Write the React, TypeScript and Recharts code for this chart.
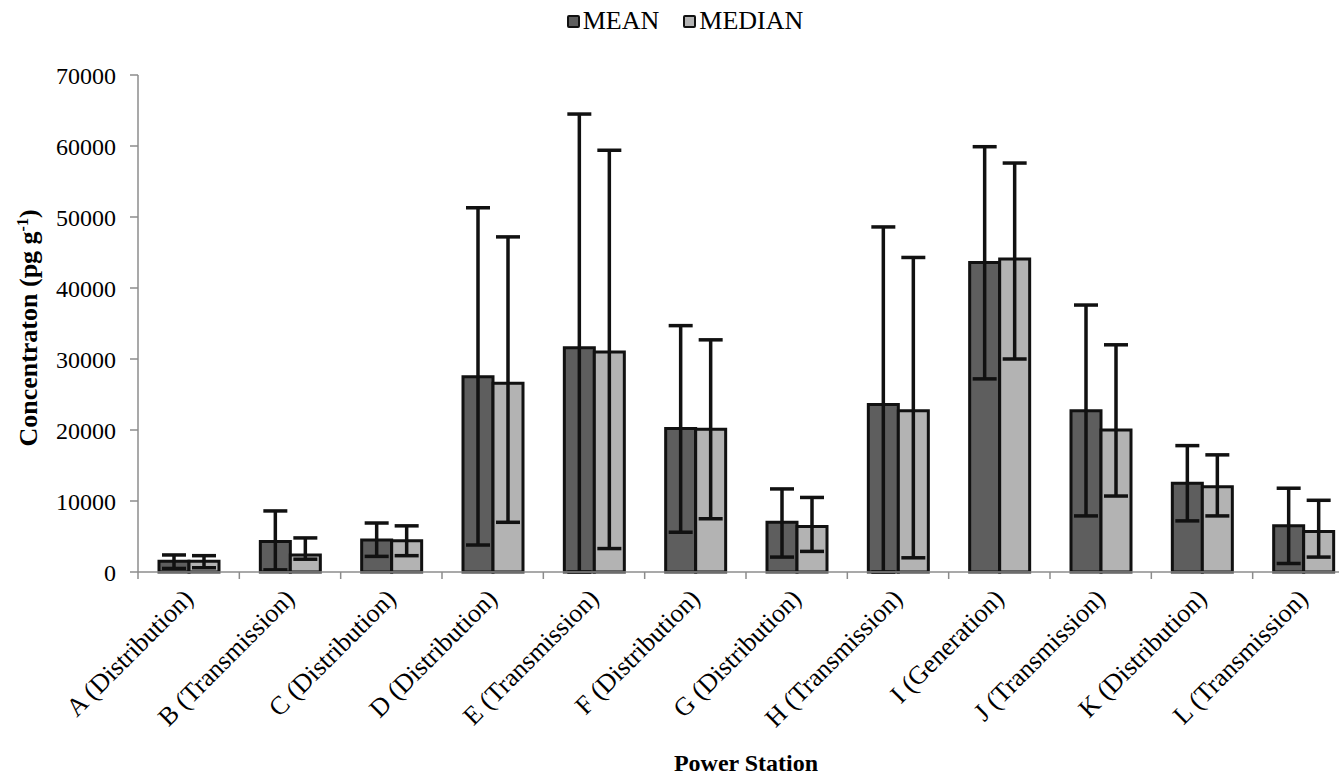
import React from 'react';
import { BarChart, Bar, XAxis, YAxis, ErrorBar, Legend } from 'recharts';

const categories = [
  'A (Distribution)', 'B (Transmission)', 'C (Distribution)', 'D (Distribution)',
  'E (Transmission)', 'F (Distribution)', 'G (Distribution)', 'H (Transmission)',
  'I (Generation)', 'J (Transmission)', 'K (Distribution)', 'L (Transmission)',
];

const meanValues = [1500, 4300, 4500, 27500, 31600, 20200, 7000, 23600, 43600, 22700, 12500, 6500];
const meanLow = [500, 300, 2200, 3800, 0, 5600, 2100, 0, 27200, 7900, 7200, 1200];
const meanHigh = [2400, 8600, 6900, 51300, 64500, 34700, 11700, 48600, 59900, 37600, 17800, 11800];

const medianValues = [1500, 2400, 4400, 26600, 31000, 20100, 6400, 22700, 44100, 20000, 12000, 5700];
const medianLow = [600, 1800, 2300, 7000, 3300, 7500, 2900, 2000, 30000, 10700, 7900, 2100];
const medianHigh = [2300, 4800, 6500, 47200, 59400, 32700, 10500, 44300, 57600, 32000, 16500, 10100];

const yTicks = [0, 10000, 20000, 30000, 40000, 50000, 60000, 70000];

const data = categories.map((name, i) => ({
  name,
  mean: meanValues[i],
  meanErr: [meanValues[i] - meanLow[i], meanHigh[i] - meanValues[i]],
  median: medianValues[i],
  medianErr: [medianValues[i] - medianLow[i], medianHigh[i] - medianValues[i]],
}));

const FONT = '"Liberation Serif", Tinos, "Times New Roman", "DejaVu Serif", "Noto Serif", serif';
const CHART_W = 1360;
const CHART_H = 779;
const PLOT_LEFT = 138;
const PLOT_RIGHT = 1354;
const BASE_Y = 572;
const BAND = (PLOT_RIGHT - PLOT_LEFT) / categories.length;
const AXIS_GRAY = '#8c8c8c';

// label sits at the category centre, tick mark sits on the boundary (Excel style)
function CategoryTick(props: any) {
  const { x, y, payload, index } = props;
  const left = x - BAND / 2;
  const ax = x + 6;
  const ay = y + 28;
  return (
    <g>
      <line x1={left} x2={left} y1={y} y2={y + 7} stroke={AXIS_GRAY} strokeWidth={1.5} />
      {index === categories.length - 1 && (
        <line x1={x + BAND / 2} x2={x + BAND / 2} y1={y} y2={y + 7} stroke={AXIS_GRAY} strokeWidth={1.5} />
      )}
      <text
        x={ax}
        y={ay}
        transform={`rotate(-45, ${ax}, ${ay})`}
        textAnchor="end"
        fontFamily={FONT}
        fontSize={26}
        fill="#000"
      >
        {payload.value}
      </text>
    </g>
  );
}

function LegendContent() {
  const items = [
    { label: 'MEAN', color: '#5e5e5e' },
    { label: 'MEDIAN', color: '#b3b3b3' },
  ];
  return (
    <div style={{ display: 'flex', justifyContent: 'center', gap: 24, fontFamily: FONT, fontSize: 26, lineHeight: '30px' }}>
      {items.map((it) => (
        <div key={it.label} style={{ display: 'flex', alignItems: 'center', gap: 3 }}>
          <span
            style={{
              display: 'inline-block',
              width: 9,
              height: 9,
              background: it.color,
              border: '2.5px solid #111',
              borderRadius: 2,
            }}
          />
          <span>{it.label}</span>
        </div>
      ))}
    </div>
  );
}

export default function App() {
  return (
    <div style={{ position: 'absolute', left: 0, top: 0, width: 1339, height: 779, overflow: 'hidden', background: '#fff' }}>
      <BarChart
        width={CHART_W}
        height={CHART_H}
        data={data}
        margin={{ top: 75, right: CHART_W - PLOT_RIGHT, left: 0, bottom: 0 }}
        barGap={0}
        barSize={30}
      >
        <Legend
          verticalAlign="middle"
          align="center"
          layout="horizontal"
          content={<LegendContent />}
          wrapperStyle={{ top: 6, left: 0, width: 1370 }}
        />
        <YAxis
          width={PLOT_LEFT}
          domain={[0, 70000]}
          ticks={yTicks}
          interval={0}
          axisLine={{ stroke: AXIS_GRAY, strokeWidth: 1.5 }}
          tickLine={{ stroke: AXIS_GRAY, strokeWidth: 1.5 }}
          tickSize={8}
          tickMargin={14}
          tick={{ fill: '#000', fontSize: 24, fontFamily: FONT }}
        />
        <XAxis
          dataKey="name"
          height={CHART_H - BASE_Y}
          interval={0}
          axisLine={{ stroke: AXIS_GRAY, strokeWidth: 1.5 }}
          tickLine={false}
          tickSize={0}
          tickMargin={0}
          tick={<CategoryTick />}
        />
        <Bar dataKey="mean" name="MEAN" fill="#5e5e5e" stroke="#111" strokeWidth={3} isAnimationActive={false}>
          <ErrorBar dataKey="meanErr" direction="y" width={12} stroke="#111" strokeWidth={3.5} />
        </Bar>
        <Bar dataKey="median" name="MEDIAN" fill="#b3b3b3" stroke="#111" strokeWidth={3} isAnimationActive={false}>
          <ErrorBar dataKey="medianErr" direction="y" width={12} stroke="#111" strokeWidth={3.5} />
        </Bar>
      </BarChart>
      <div
        style={{
          position: 'absolute',
          left: 29,
          top: 328,
          transform: 'translate(-50%, -50%) rotate(-90deg)',
          whiteSpace: 'nowrap',
          fontFamily: FONT,
          fontWeight: 'bold',
          fontSize: 26,
        }}
      >
        Concentraton (pg g<sup style={{ fontSize: 16 }}>-1</sup>)
      </div>
      <div
        style={{
          position: 'absolute',
          left: (PLOT_LEFT + PLOT_RIGHT) / 2,
          top: 763,
          transform: 'translate(-50%, -50%)',
          whiteSpace: 'nowrap',
          fontFamily: FONT,
          fontWeight: 'bold',
          fontSize: 24,
        }}
      >
        Power Station
      </div>
    </div>
  );
}
